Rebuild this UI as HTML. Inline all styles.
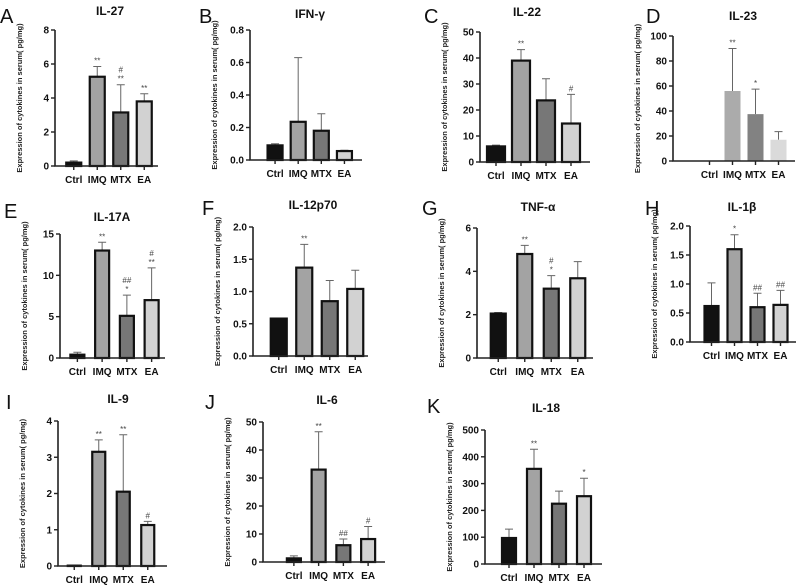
<!DOCTYPE html>
<html><head><meta charset="utf-8">
<style>
html,body{margin:0;padding:0;background:#fff;}
svg{display:block;font-family:"Liberation Sans",Arial,sans-serif;}
</style></head>
<body>
<svg id="fig" width="798" height="585" viewBox="0 0 798 585" xmlns="http://www.w3.org/2000/svg"></svg>
<script>
const categories = ["Ctrl","IMQ","MTX","EA"];
const il27Values = [0.2,5.25,3.15,3.8];
const il27Upper = [0.3,5.85,4.78,4.25];
const il27Ticks = [0,2,4,6,8];
const il27Marks = [[],["**"],["#","**"],["**"]];
const ifngValues = [0.09,0.235,0.18,0.055];
const ifngUpper = [0.1,0.63,0.285,0.06];
const ifngTicks = ["0.0","0.2","0.4","0.6","0.8"];
const ifngMarks = [[],[],[],[]];
const il22Values = [6,39,23.7,14.8];
const il22Upper = [6.5,43.2,32,26];
const il22Ticks = [0,10,20,30,40,50];
const il22Marks = [[],["**"],[],["#"]];
const il23Values = [0,56,37.5,17];
const il23Upper = [0,90,57.5,23.5];
const il23Ticks = [0,20,40,60,80,100];
const il23Marks = [[],["**"],["*"],[]];
const il17Values = [0.4,13,5.1,7];
const il17Upper = [0.7,14,7.6,10.9];
const il17Ticks = [0,5,10,15];
const il17Marks = [[],["**"],["##","*"],["#","**"]];
const il12Values = [0.58,1.37,0.85,1.04];
const il12Upper = [0.59,1.73,1.17,1.33];
const il12Ticks = ["0.0","0.5","1.0","1.5","2.0"];
const il12Marks = [[],["**"],[],[]];
const tnfValues = [2.05,4.8,3.2,3.68];
const tnfUpper = [2.1,5.2,3.8,4.45];
const tnfTicks = [0,2,4,6];
const tnfMarks = [[],["**"],["#","*"],[]];
const il1bValues = [0.62,1.6,0.6,0.64];
const il1bUpper = [1.02,1.85,0.84,0.89];
const il1bTicks = ["0.0","0.5","1.0","1.5","2.0"];
const il1bMarks = [[],["*"],["##"],["##"]];
const il9Values = [0.01,3.15,2.05,1.13];
const il9Upper = [0.02,3.48,3.62,1.23];
const il9Ticks = [0,1,2,3,4];
const il9Marks = [[],["**"],["**"],["#"]];
const il6Values = [1.3,33,6,8.2];
const il6Upper = [2.2,46.5,8.2,12.7];
const il6Ticks = [0,10,20,30,40,50];
const il6Marks = [[],["**"],["##"],["#"]];
const il18Values = [97,355,225,253];
const il18Upper = [130,428,272,320];
const il18Ticks = [0,100,200,300,400,500];
const il18Marks = [[],["**"],[],["*"]];

const panels = [
 {id:"a",letter:"A",title:"IL-27",v:il27Values,u:il27Upper,t:il27Ticks,m:il27Marks,ax:55,y0:166,yt:30,b0:62,b1:156,ae:158,bw:17,tx:110,ty:11,lx:0,ly:23},
 {id:"b",letter:"B",title:"IFN-γ",v:ifngValues,u:ifngUpper,t:ifngTicks,m:ifngMarks,ax:250,y0:160,yt:30,b0:263.5,b1:356,ae:362,bw:17,tx:310,ty:14,lx:199,ly:23},
 {id:"c",letter:"C",title:"IL-22",v:il22Values,u:il22Upper,t:il22Ticks,m:il22Marks,ax:480,y0:162,yt:32,b0:483.5,b1:583.5,ae:590,bw:20,tx:527,ty:12,lx:424,ly:23},
 {id:"d",letter:"D",title:"IL-23",v:il23Values,u:il23Upper,t:il23Ticks,m:il23Marks,ax:673,y0:161,yt:36,b0:698,b1:790,ae:795,bw:16,tx:743,ty:16,lx:646,ly:23,noBorder:true},
 {id:"e",letter:"E",title:"IL-17A",v:il17Values,u:il17Upper,t:il17Ticks,m:il17Marks,ax:60,y0:358,yt:234,b0:65,b1:164,ae:165,bw:16,tx:112,ty:217,lx:4,ly:218},
 {id:"f",letter:"F",title:"IL-12p70",v:il12Values,u:il12Upper,t:il12Ticks,m:il12Marks,ax:253,y0:356,yt:227,b0:266,b1:368,ae:368,bw:18,tx:313,ty:205,lx:202,ly:215},
 {id:"g",letter:"G",title:"TNF-α",v:tnfValues,u:tnfUpper,t:tnfTicks,m:tnfMarks,ax:477,y0:358,yt:228,b0:485,b1:591,ae:593,bw:17,tx:538,ty:207,lx:422,ly:215},
 {id:"h",letter:"H",title:"IL-1β",v:il1bValues,u:il1bUpper,t:il1bTicks,m:il1bMarks,ax:690,y0:342,yt:226,b0:700,b1:792,ae:796,bw:16,tx:742,ty:207,lx:645,ly:215},
 {id:"i",letter:"I",title:"IL-9",v:il9Values,u:il9Upper,t:il9Ticks,m:il9Marks,ax:58,y0:566,yt:421,b0:62,b1:160,ae:167,bw:15,tx:118,ty:399,lx:6,ly:409},
 {id:"j",letter:"J",title:"IL-6",v:il6Values,u:il6Upper,t:il6Ticks,m:il6Marks,ax:263,y0:562,yt:422,b0:281.5,b1:380.5,ae:385,bw:16,tx:327,ty:400,lx:205,ly:409},
 {id:"k",letter:"K",title:"IL-18",v:il18Values,u:il18Upper,t:il18Ticks,m:il18Marks,ax:485,y0:564,yt:430,b0:496.5,b1:596.5,ae:602,bw:16,tx:546,ty:408,lx:427,ly:413}
];
const fills = ["#111111","#a3a3a3","#777777","#d2d2d2"];
const fillsNB = ["#111111","#ababab","#828282","#dadada"];
const NS = "http://www.w3.org/2000/svg";
const svg = document.getElementById("fig");
function mk(tag, attrs, parent){
  const e = document.createElementNS(NS, tag);
  for (const k in attrs) e.setAttribute(k, attrs[k]);
  (parent||svg).appendChild(e);
  return e;
}
panels.forEach(p => {
  const g = mk("g", {});
  
  
  const tickNums = p.t.map(Number);
  const max = tickNums[tickNums.length-1];
  const yS = v => p.y0 - (v/max)*(p.y0-p.yt);
  const step = (p.b1-p.b0)/categories.length;
  const xS = i => p.b0 + step*(i+0.5);
  const L = mk("text", {x:p.lx, y:p.ly, "font-size":20, fill:"#111"}, g);
  L.textContent = p.letter;
  
  
  const T = mk("text", {x:p.tx, y:p.ty+4, "font-size":12, "font-weight":"bold", "text-anchor":"middle", fill:"#111"}, g);
  T.textContent = p.title;
  
  
  const ym = (p.y0+p.yt)/2;
  const YL = mk("text", {x:p.ax-33, y:ym, "font-size":7.5, "font-weight":"bold", fill:"#222", "text-anchor":"middle", transform:`rotate(-90 ${p.ax-33} ${ym})`}, g);
  YL.textContent = "Expression of cytokines in serum( pg/mg)";
  
  
  categories.forEach((c,i) => {
    const x = xS(i), top = yS(p.v[i]), up = yS(p.u[i]);
    if (p.u[i] > p.v[i]) {
      const eb = mk("path", {d:`M${x} ${top}V${up}M${x-4} ${up}H${x+4}`, stroke:"#666", "stroke-width":1, fill:"none"}, g);
      
      
    }
    const h = Math.max(p.y0-top, 0);
    if (p.noBorder) {
      if (h > 0) {
        const r = mk("rect", {x:x-p.bw/2, y:top, width:p.bw, height:h, fill:fillsNB[i]}, g);
        
        
      }
    } else {
      const r = mk("rect", {x:x-p.bw/2+1, y:top, width:p.bw-2, height:h, fill:fills[i], stroke:"#111", "stroke-width":2.2}, g);
      
      
    }
    const marks = p.m[i];
    marks.slice().reverse().forEach((s,k) => {
      const mt = mk("text", {x:x, y:up-3-k*9, "font-size":8, "text-anchor":"middle", fill:"#444"}, g);
      mt.textContent = s;
      
      
    });
    const cl = mk("text", {x:x, y:p.y0+17, "font-size":10, "font-weight":"bold", "text-anchor":"middle", fill:"#111"}, g);
    cl.textContent = c;
    
    
  });
  const axes = mk("path", {d:`M${p.ax} ${p.yt}V${p.y0}H${p.ae}`, stroke:"#222", "stroke-width":1.6, fill:"none"}, g);
  
  
  p.t.forEach((t,k) => {
    const y = yS(Number(t));
    const tk = mk("path", {d:`M${p.ax-4} ${y}H${p.ax}`, stroke:"#222", "stroke-width":1.4}, g);
    
    
    const tl = mk("text", {x:p.ax-6, y:y+3.5, "font-size":10, "font-weight":"bold", "text-anchor":"end", fill:"#111"}, g);
    tl.textContent = t;
    
    
  });
  categories.forEach((c,i) => {
    const x = xS(i);
    const tk = mk("path", {d:`M${x} ${p.y0}V${p.y0+4}`, stroke:"#222", "stroke-width":1.4}, g);
    
    
  });
});
</script>
</body></html>
